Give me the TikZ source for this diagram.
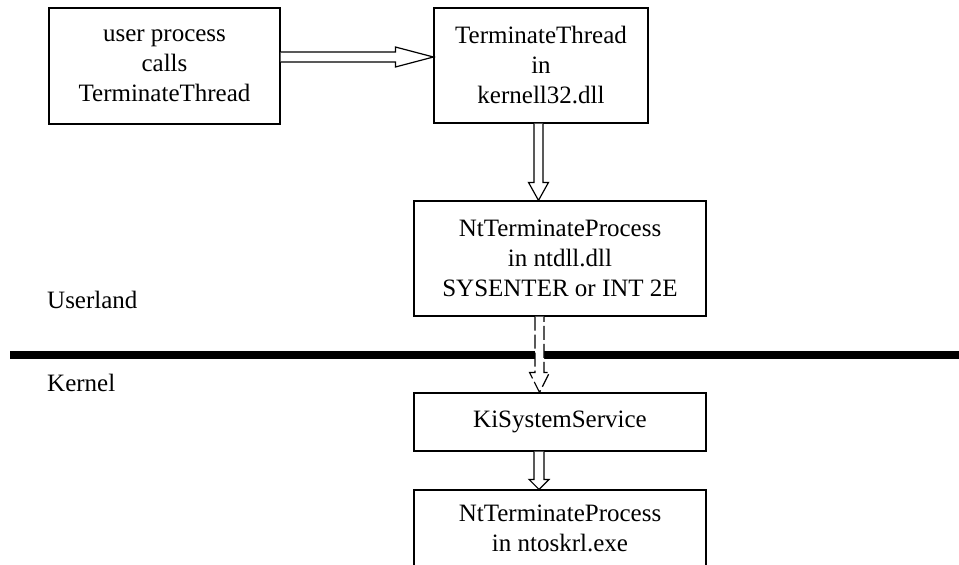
\documentclass[tikz,border=0pt]{standalone}
\usepackage{fontspec}
\setmainfont{Liberation Serif}
\usetikzlibrary{calc}
\tikzset{
  box/.style={draw, line width=1.2pt, rectangle, inner sep=0pt, align=center,
    font=\fontsize{25}{30}\selectfont},
  lbl/.style={inner sep=0pt, anchor=west, font=\fontsize{25}{30}\selectfont},
  hollow/.style={draw, fill=white, line width=1.2pt, line join=miter},
  hollowdash/.style={hollow, dash pattern=on 14pt off 4pt},
  rule/.style={line width=8pt}
}
% vertical hollow arrow: #1 style, #2 start, #3 tip, #4 half shaft, #5 half head, #6 head length
\newcommand\hollowdown[6]{%
  \draw[#1] ($(#2)+(-#4,0)$) -- ($(#3)+(-#4,-#6)$) -- ($(#3)+(-#5,-#6)$) -- (#3)
    -- ($(#3)+(#5,-#6)$) -- ($(#3)+(#4,-#6)$) -- ($(#2)+(#4,0)$);}
\newcommand\hollowright[6]{%
  \draw[#1] ($(#2)+(0,-#4)$) -- ($(#3)+(-#6,-#4)$) -- ($(#3)+(-#6,-#5)$) -- (#3)
    -- ($(#3)+(-#6,#5)$) -- ($(#3)+(-#6,#4)$) -- ($(#2)+(0,#4)$);}
\begin{document}
\begin{tikzpicture}[x=1pt,y=-1pt]
\useasboundingbox (0,0) rectangle (959,565);
\fill[white] (0,0) rectangle (959,565);

\node[box, minimum width=231pt, minimum height=116pt] (b1) at (164.5,66)
  {user process\\calls\\TerminateThread};
\node[box, minimum width=214pt, minimum height=115pt] (b2) at (541,65.5)
  {TerminateThread\\in\\kernell32.dll};
\node[box, minimum width=292pt, minimum height=115pt] (b3) at (560,258.5)
  {NtTerminateProcess\\in ntdll.dll\\SYSENTER or INT 2E};
\node[box, minimum width=292pt, minimum height=58pt] (b4) at (560,422)
  {KiSystemService};
\node[box, minimum width=292pt, minimum height=130pt] (b5) at (560,555) {};
\node[inner sep=0pt, align=center, font=\fontsize{25}{30}\selectfont, anchor=north]
  (t5) at ($(b5.north)+(0,15)$) {NtTerminateProcess\\in ntoskrl.exe};

\node[lbl] (user) at (47,300) {Userland};
\node[lbl] (kern) at (47,383) {Kernel};

\coordinate (ruleL) at (10,355);
\coordinate (ruleR) at (965,355);
\draw[rule] (ruleL) -- (ruleR);

\coordinate (ax) at (539,0);
\coordinate (h1s) at (b1.east |- 0,57);
\coordinate (h1e) at (b2.west |- 0,57);
\hollowright{hollow}{h1s}{h1e}{5}{10}{38}

\coordinate (a2s) at (b2.south -| 538.5,0);
\coordinate (a2e) at (b3.north -| 538.5,0);
\hollowdown{hollow}{a2s}{a2e}{4.5}{10}{18}

\coordinate (a3s) at (b3.south -| 539.5,0);
\coordinate (a3e) at (b4.north -| 539.5,0);
\hollowdown{hollowdash}{a3s}{a3e}{4.5}{10}{20}

\coordinate (a4s) at (b4.south -| ax);
\coordinate (a4e) at (b5.north -| ax);
\hollowdown{hollow}{a4s}{a4e}{5}{10}{10}
\end{tikzpicture}
\end{document}
